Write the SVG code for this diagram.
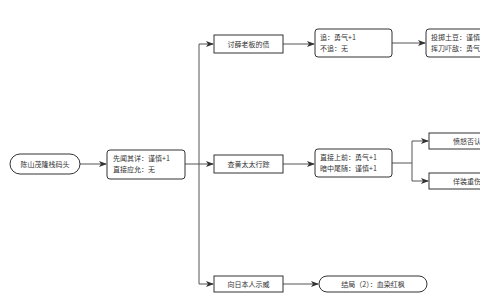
<svg xmlns="http://www.w3.org/2000/svg" width="480" height="303" viewBox="0 0 480 303">
<style>
.n{fill:#fff;stroke:#333;stroke-width:1}
.t{font-family:"Noto Sans CJK SC","Noto Sans",sans-serif;font-size:7px;fill:#333}
.c{fill:none;stroke:#555;stroke-width:1;marker-end:url(#a)}
.l{fill:none;stroke:#555;stroke-width:1}
</style>
<defs>
<marker id="a" markerWidth="8" markerHeight="6" refX="7" refY="3" orient="auto" markerUnits="userSpaceOnUse">
<path d="M0,0 L8,3 L0,6 L2,3 Z" fill="#333"/>
</marker>
</defs>
<rect width="480" height="303" fill="#fff"/>
<g id="connectors">
<path class="c" d="M80,164 H106"/>
<path class="l" d="M185,164 H199"/>
<path class="l" d="M199,44 V284"/>
<path class="c" d="M199,44 H213"/>
<path class="c" d="M199,164 H213"/>
<path class="c" d="M199,284 H213"/>
<path class="c" d="M283,44 H314"/>
<path class="c" d="M392,43 H425"/>
<path class="c" d="M283,164 H314"/>
<path class="c" d="M283,284 H318"/>
<path class="l" d="M392,163 H412 M412,141 V181"/>
<path class="c" d="M412,141 H428"/>
<path class="c" d="M412,181 H428"/>
</g>
<g id="n1"><rect class="n" x="10" y="154" width="70" height="20" rx="10"/><text class="t" x="45" y="166.5" text-anchor="middle">陈山茂隆栈码头</text></g>
<g id="n2"><rect class="n" x="107" y="150" width="78" height="29" rx="3"/><text class="t" x="113" y="161">先闻其详：谨慎+1</text><text class="t" x="113" y="172">直接应允：无</text></g>
<g id="n3"><rect class="n" x="214" y="35" width="69" height="18"/><text class="t" x="248.5" y="46.5" text-anchor="middle">讨薛老板的债</text></g>
<g id="n4"><rect class="n" x="315" y="29" width="77" height="28" rx="3"/><text class="t" x="320" y="40">追：勇气+1</text><text class="t" x="320" y="51">不追：无</text></g>
<g id="n5"><rect class="n" x="426" y="29" width="80" height="28" rx="3"/><text class="t" x="431" y="40">投掷土豆：谨慎+1</text><text class="t" x="431" y="51">挥刀吓敌：勇气+1</text></g>
<g id="n6"><rect class="n" x="214" y="155" width="69" height="18"/><text class="t" x="248.5" y="166.5" text-anchor="middle">查黄太太行踪</text></g>
<g id="n7"><rect class="n" x="315" y="149" width="77" height="28" rx="3"/><text class="t" x="320" y="160">直接上前：勇气+1</text><text class="t" x="320" y="171">暗中尾随：谨慎+1</text></g>
<g id="n8"><rect class="n" x="429" y="133" width="80" height="16"/><text class="t" x="453" y="143.5">愤怒否认</text></g>
<g id="n9"><rect class="n" x="429" y="173" width="80" height="16"/><text class="t" x="453" y="183.5">佯装重伤</text></g>
<g id="n10"><rect class="n" x="214" y="276" width="69" height="16"/><text class="t" x="248.5" y="286.5" text-anchor="middle">向日本人示威</text></g>
<g id="n11"><rect class="n" x="319" y="276" width="108" height="16" rx="8"/><text class="t" x="373" y="286.5" text-anchor="middle">结局（2）：血染红枫</text></g>
</svg>
